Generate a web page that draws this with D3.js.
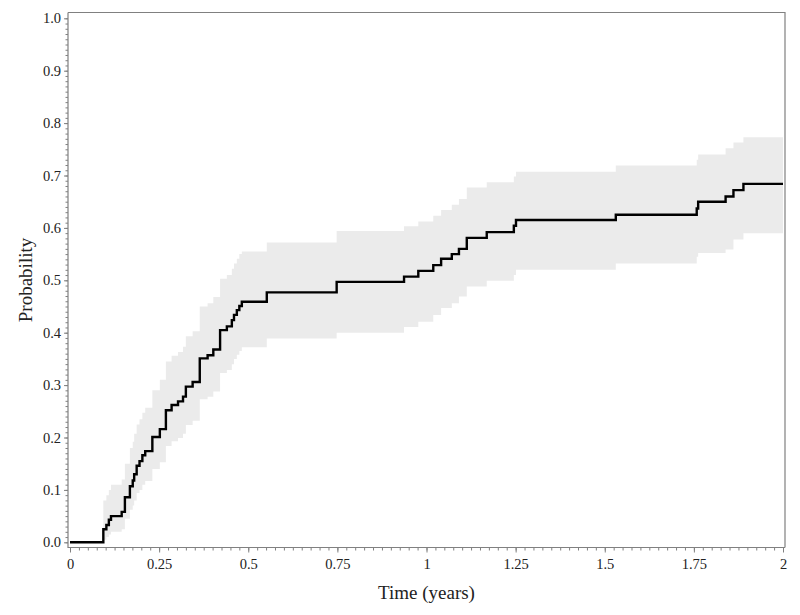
<!DOCTYPE html>
<html>
<head>
<meta charset="utf-8">
<script src="https://cdn.jsdelivr.net/npm/d3@7"></script>
<style>
  body { margin: 0; background: #fff; }
  svg { display: block; }
  .tick text { font-family: "Liberation Serif", "Times New Roman", serif; }
</style>
</head>
<body>
<svg id="chart" width="800" height="615"></svg>
<script>
const width = 800;
const height = 615;

// event times (years) and cumulative incidence with pointwise CI
const times = [0, 0.0935, 0.102, 0.109, 0.115, 0.145, 0.154, 0.168, 0.176, 0.180, 0.187,
  0.195, 0.203, 0.211, 0.231, 0.252, 0.269, 0.285, 0.303, 0.317, 0.325,
  0.344, 0.364, 0.386, 0.402, 0.421, 0.440, 0.454, 0.460, 0.468, 0.475,
  0.482, 0.552, 0.748, 0.937, 0.977, 1.019, 1.041, 1.071, 1.091, 1.113,
  1.169, 1.245, 1.251, 1.531, 1.758, 1.762, 1.839, 1.861, 1.889, 2.0];
const prob = [0, 0.025, 0.033, 0.043, 0.050, 0.058, 0.086, 0.107, 0.118, 0.130, 0.146,
  0.155, 0.166, 0.174, 0.201, 0.216, 0.252, 0.262, 0.269, 0.278, 0.297,
  0.306, 0.351, 0.357, 0.368, 0.405, 0.412, 0.424, 0.434, 0.443, 0.451,
  0.459, 0.477, 0.497, 0.507, 0.518, 0.529, 0.541, 0.550, 0.560, 0.581,
  0.592, 0.604, 0.615, 0.625, 0.637, 0.650, 0.660, 0.672, 0.684, 0.684];
const lower = [0, 0.005, 0.010, 0.015, 0.020, 0.025, 0.045, 0.062, 0.070, 0.080, 0.094,
  0.100, 0.110, 0.117, 0.140, 0.153, 0.184, 0.193, 0.199, 0.207, 0.224,
  0.232, 0.273, 0.278, 0.288, 0.323, 0.329, 0.340, 0.350, 0.358, 0.365,
  0.372, 0.389, 0.400, 0.411, 0.421, 0.434, 0.447, 0.456, 0.469, 0.488,
  0.499, 0.510, 0.520, 0.532, 0.545, 0.552, 0.559, 0.578, 0.590, 0.590];
const upper = [0, 0.080, 0.090, 0.100, 0.110, 0.120, 0.150, 0.180, 0.192, 0.207, 0.225,
  0.235, 0.247, 0.257, 0.290, 0.310, 0.345, 0.356, 0.363, 0.373, 0.393,
  0.403, 0.450, 0.456, 0.468, 0.503, 0.510, 0.522, 0.532, 0.541, 0.550,
  0.555, 0.572, 0.594, 0.603, 0.612, 0.623, 0.634, 0.644, 0.655, 0.677,
  0.687, 0.698, 0.707, 0.719, 0.730, 0.740, 0.752, 0.763, 0.773, 0.773];

const xTicks = [0, 0.25, 0.5, 0.75, 1, 1.25, 1.5, 1.75, 2];
const xTickLabels = ["0", "0.25", "0.5", "0.75", "1", "1.25", "1.5", "1.75", "2"];
const yTicks = [0, 0.1, 0.2, 0.3, 0.4, 0.5, 0.6, 0.7, 0.8, 0.9, 1.0];

const frame = { left: 68, right: 785, top: 12.5, bottom: 547.5 };

const x = d3.scaleLinear().domain([0, 2]).range([70, 783]);
const y = d3.scaleLinear().domain([0, 1]).range([542.3, 18.3]);

const svg = d3.select("#chart");
const rows = times.map((t, i) => ({ t, p: prob[i], lo: lower[i], hi: upper[i] }));

// confidence band
const band = d3.area()
    .curve(d3.curveStepAfter)
    .x(d => x(d.t))
    .y0(d => y(d.lo))
    .y1(d => y(d.hi));

svg.append("path")
    .datum(rows)
    .attr("d", band)
    .attr("fill", "#ebebeb")
    .attr("stroke", "none");

// step curve
const line = d3.line()
    .curve(d3.curveStepAfter)
    .x(d => x(d.t))
    .y(d => y(d.p));

svg.append("path")
    .datum(rows)
    .attr("d", line)
    .attr("fill", "none")
    .attr("stroke", "#000")
    .attr("stroke-width", 2.4);

// frame (top + right)
svg.append("path")
    .attr("d", `M${frame.left},${frame.top}H${frame.right}V${frame.bottom}`)
    .attr("fill", "none")
    .attr("stroke", "#808080")
    .attr("stroke-width", 1.2);

// minor ticks
const xMinor = d3.range(0, 81).map(i => i * 0.025);
const yMinor = d3.range(0, 101).map(i => i * 0.01);

const xMinorAxis = svg.append("g")
    .attr("transform", `translate(0,${frame.bottom})`)
    .call(d3.axisBottom(x).tickValues(xMinor).tickSize(3).tickFormat(""));
const yMinorAxis = svg.append("g")
    .attr("transform", `translate(${frame.left},0)`)
    .call(d3.axisLeft(y).tickValues(yMinor).tickSize(2.5).tickFormat(""));

// major axes
const xAxis = svg.append("g")
    .attr("transform", `translate(0,${frame.bottom})`)
    .call(d3.axisBottom(x).tickValues(xTicks).tickSize(5).tickPadding(6)
        .tickFormat((d, i) => xTickLabels[i]));
const yAxis = svg.append("g")
    .attr("transform", `translate(${frame.left},0)`)
    .call(d3.axisLeft(y).tickValues(yTicks).tickSize(4).tickPadding(3)
        .tickFormat(d3.format(".1f")));

[xMinorAxis, yMinorAxis, xAxis, yAxis].forEach(g => {
    g.select(".domain").remove();
    g.selectAll(".tick line").attr("stroke", "#808080").attr("stroke-width", 1);
});
xAxis.selectAll(".tick text").attr("font-size", 14.5).attr("fill", "#222");
yAxis.selectAll(".tick text").attr("font-size", 14.5).attr("fill", "#222");

// axis lines
svg.append("path")
    .attr("d", `M${frame.left},${frame.top}V${frame.bottom}H${frame.right}`)
    .attr("fill", "none")
    .attr("stroke", "#808080")
    .attr("stroke-width", 1.2);

// axis titles
svg.append("text")
    .attr("x", (frame.left + frame.right) / 2)
    .attr("y", 599)
    .attr("text-anchor", "middle")
    .attr("font-family", "Liberation Serif, serif")
    .attr("font-size", 19)
    .attr("fill", "#222")
    .text("Time (years)");

svg.append("text")
    .attr("transform", `translate(32,${(frame.top + frame.bottom) / 2}) rotate(-90)`)
    .attr("text-anchor", "middle")
    .attr("font-family", "Liberation Serif, serif")
    .attr("font-size", 19)
    .attr("fill", "#222")
    .text("Probability");
</script>
</body>
</html>
